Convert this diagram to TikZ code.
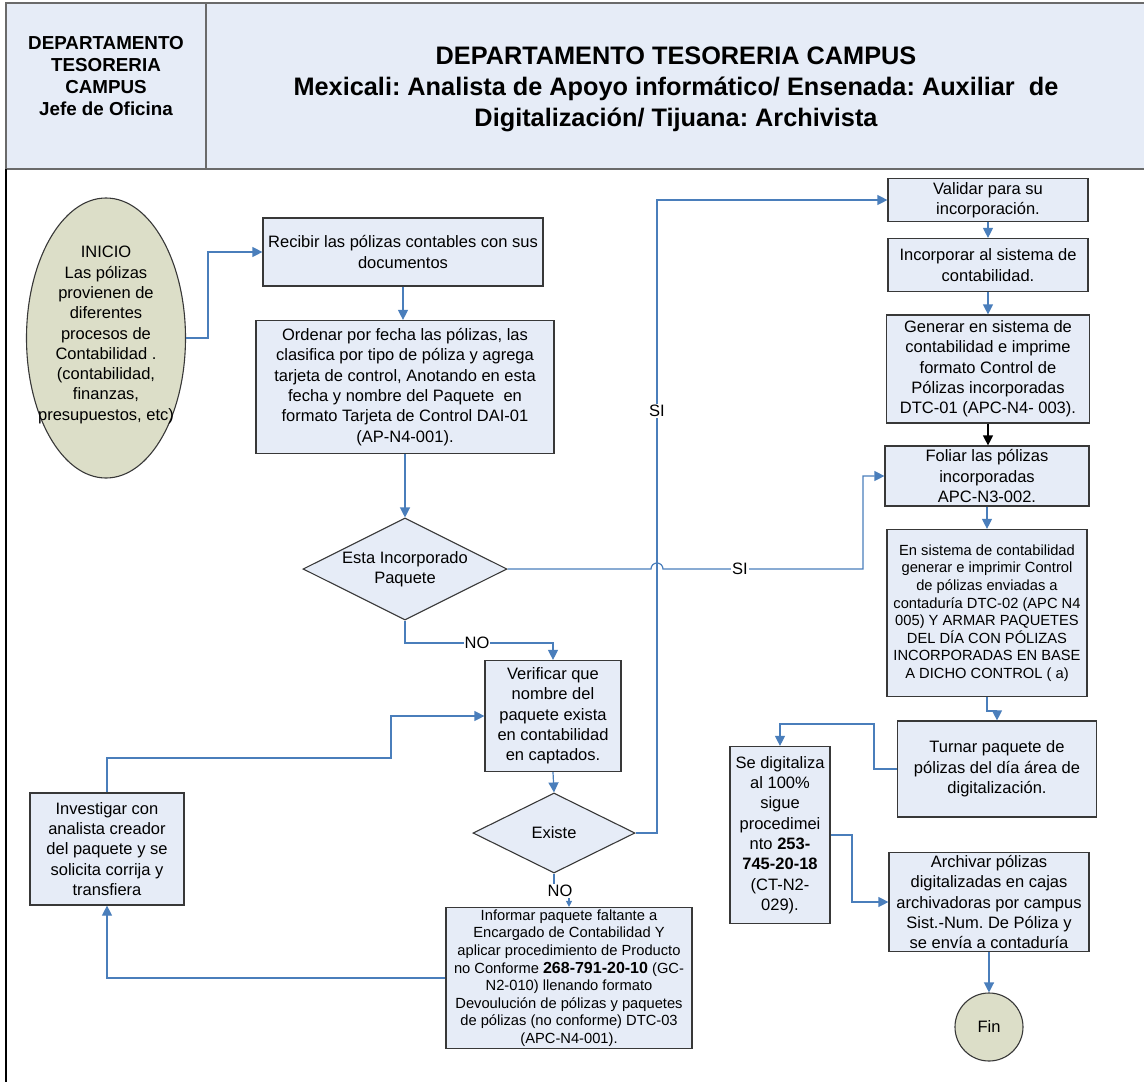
\documentclass[tikz,border=0pt]{standalone}
\usepackage{fontspec}
\setmainfont{Liberation Sans}
\usetikzlibrary{shapes.geometric,arrows.meta}

\definecolor{cajaazul}{HTML}{E6ECF7}
\definecolor{flecha}{HTML}{4A7EBB}
\definecolor{olivo}{HTML}{DCDEC8}
\definecolor{borde}{HTML}{383838}
\definecolor{marco}{HTML}{6A6A6A}

\frenchspacing

\begin{document}
\begin{tikzpicture}[x=1pt,y=-1pt,font=\fontsize{16.5}{20.3}\selectfont,
    caja/.style={draw=borde,line width=1.2pt,fill=cajaazul,align=center,inner sep=1pt},
    decision/.style={diamond,shape aspect=2,draw=borde,line width=1.1pt,fill=cajaazul,align=center,inner sep=0pt},
    terminal/.style={draw=borde,line width=1.1pt,fill=olivo},
    flujo/.style={draw=flecha,line width=1.2pt,-{Triangle[length=10pt,width=10pt]}},
    etiqueta/.style={fill=white,inner sep=1pt},
    chica/.style={font=\fontsize{14.7}{17.6}\selectfont}]

    \useasboundingbox (0,0) rectangle (1144,1082);

    % encabezado de carriles
    \draw[marco,line width=1.4pt,fill=cajaazul] (6,3) rectangle (1152,169);
    \draw[marco,line width=1.4pt] (206,3) -- (206,169);
    \draw[black,line width=1.2pt] (6,169) -- (6,1082);
    \node[font=\bfseries\fontsize{18.8}{22}\selectfont,align=center] (jefe) at (106,76)
      {DEPARTAMENTO\\TESORERIA\\CAMPUS\\Jefe de Oficina};
    \node[font=\bfseries\fontsize{25.3}{31}\selectfont,align=center] (titulo) at (676,89)
      {DEPARTAMENTO TESORERIA CAMPUS\\Mexicali: Analista de Apoyo informático/ Ensenada: Auxiliar\ \ de\\Digitalización/ Tijuana: Archivista};

    % inicio
    \node[terminal,ellipse,minimum width=159pt,minimum height=280pt] (inicio) at (106,338) {};
    \node[align=center] (iniciotxt) at (106,335)
      {INICIO\\Las pólizas\\provienen de\\diferentes\\procesos de\\Contabilidad .\\(contabilidad,\\finanzas,\\presupuestos, etc)};

    % columna central
    \node[caja,minimum width=280pt,minimum height=68pt] (recibir) at (403,252)
      {Recibir las pólizas contables con sus\\documentos};
    \node[caja,minimum width=298pt,minimum height=133pt] (ordenar) at (405,387)
      {Ordenar por fecha las pólizas, las\\clasifica por tipo de póliza y agrega\\tarjeta de control, Anotando en esta\\fecha y nombre del Paquete\ \ en\\formato Tarjeta de Control DAI-01\\(AP-N4-001).};
    \node[decision,minimum width=204pt,minimum height=102pt] (incorp) at (405,569)
      {Esta Incorporado\\Paquete};
    \node[caja,minimum width=136pt,minimum height=111pt] (verif) at (553,716)
      {Verificar que\\nombre del\\paquete exista\\en contabilidad\\en captados.};
    \node[decision,minimum width=162pt,minimum height=80pt] (existe) at (554,833) {Existe};
    \node[caja,chica,minimum width=246pt,minimum height=141pt] (informar) at (569,978)
      {Informar paquete faltante a\\Encargado de Contabilidad Y\\aplicar procedimiento de Producto\\no Conforme \textbf{\fontsize{16}{17.6}\selectfont 268-791-20-10} (GC-\\N2-010) llenando formato\\Devoulución de pólizas y paquetes\\de pólizas (no conforme) DTC-03\\(APC-N4-001).};
    \node[caja,minimum width=154pt,minimum height=112pt] (investigar) at (107,849)
      {Investigar con\\analista creador\\del paquete y se\\solicita corrija y\\transfiera};

    % columna derecha
    \node[caja,minimum width=200pt,minimum height=43pt] (validar) at (988,200)
      {Validar para su\\incorporación.};
    \node[caja,minimum width=200pt,minimum height=53pt] (incorporar) at (988,265)
      {Incorporar al sistema de\\contabilidad.};
    \node[caja,minimum width=203pt,minimum height=108pt] (generar) at (988,369)
      {Generar en sistema de\\contabilidad e imprime\\formato Control de\\Pólizas incorporadas\\DTC-01 (APC-N4- 003).};
    \node[caja,minimum width=204pt,minimum height=60pt,inner ysep=0pt] (foliar) at (987,476)
      {Foliar las pólizas\\incorporadas\\APC-N3-002.};
    \node[caja,chica,minimum width=200pt,minimum height=167pt] (ensis) at (987,613)
      {En sistema de contabilidad\\generar e imprimir Control\\de pólizas enviadas a\\contaduría DTC-02 (APC N4\\005) Y ARMAR PAQUETES\\DEL DÍA CON PÓLIZAS\\INCORPORADAS EN BASE\\A DICHO CONTROL ( a)};
    \node[caja,minimum width=199pt,minimum height=96pt] (turnar) at (997,769)
      {Turnar paquete de\\pólizas del día área de\\digitalización.};
    \node[caja,minimum width=100pt,minimum height=177pt] (digitaliza) at (780,835)
      {Se digitaliza\\al 100\%\\sigue\\procedimei\\nto \textbf{253-}\\\textbf{745-20-18}\\(CT-N2-\\029).};
    \node[caja,minimum width=200pt,minimum height=99pt,inner ysep=0pt] (archivar) at (989,902)
      {Archivar pólizas\\digitalizadas en cajas\\archivadoras por campus\\Sist.-Num. De Póliza y\\se envía a contaduría};
    \node[terminal,circle,minimum size=68pt,inner sep=0pt] (fin) at (989,1027) {Fin};

    % conectores
    \draw[flujo] (inicio.east) -- (208,338) |- (recibir.west);
    \draw[flujo] (recibir.south) -- (ordenar.north -| recibir.south);
    \draw[flujo] (ordenar.south) -- (incorp.north);
    \draw[flujo] (incorp.east) -- (651,569) arc[start angle=180,end angle=360,radius=6]
      -- (863,569) |- (foliar.west);
    \node[etiqueta] (si1) at (740,569) {SI};
    \draw[flujo] (incorp.south) -- (405,643) -| (verif.north);
    \node[etiqueta] (no1) at (477,643) {NO};
    \draw[flujo] (verif.south) -- (existe.north);
    \draw[flujo] (existe.east) -- (657,833) |- (validar.west);
    \node[etiqueta] (si2) at (657,411) {SI};
    \draw[flujo,-{Triangle[length=6pt,width=6pt]}] (existe.south) -- ++(0,20) -| (informar.north);
    \node[etiqueta] (no2) at (560,891) {NO};
    \draw[flujo] (informar.west) -| (investigar.south);
    \draw[flujo] (investigar.north) |- (391,758) |- (verif.west);

    \draw[flujo] (validar.south) -- (incorporar.north);
    \draw[flujo] (incorporar.south) -- (generar.north);
    \draw[flujo,draw=black] (generar.south) -- (foliar.north -| generar.south);
    \draw[flujo] (foliar.south) -- (ensis.north);
    \draw[flujo] (ensis.south) -- (987,711) -| (turnar.north);
    \draw[flujo] (turnar.west) -| (874,724) -| (digitaliza.north);
    \draw[flujo] (digitaliza.east) -- (852,835) |- (archivar.west);
    \draw[flujo] (archivar.south) -- (fin.north);
\end{tikzpicture}
\end{document}
